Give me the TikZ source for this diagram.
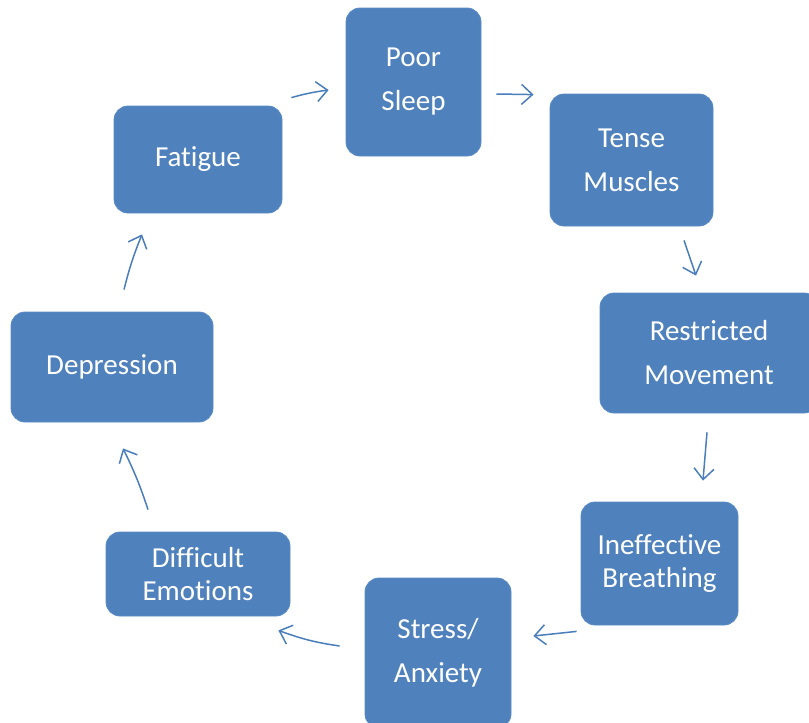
\documentclass[tikz,border=0pt]{standalone}
\usepackage{fontspec}
\setmainfont[Ligatures=NoCommon]{Carlito}
\usetikzlibrary{arrows.meta,bending}
\definecolor{boxblue}{HTML}{4F81BD}
\definecolor{boxedge}{HTML}{5A8BC6}
\definecolor{arrowblue}{HTML}{4A7EBB}
\tikzset{
  cyclebox/.style={draw=boxedge, line width=0.8pt, fill=boxblue, rounded corners=14pt,
    text=white, align=center, inner sep=0pt, font=\fontsize{29}{44}\selectfont},
  tightbox/.style={cyclebox, font=\fontsize{29}{33}\selectfont},
  cyclearrow/.style={draw=arrowblue, line width=1.5pt,
    -{Straight Barb[length=11pt,width=20pt,line width=1.5pt]}}
}
\begin{document}
\begin{tikzpicture}[x=1pt,y=1pt]
\useasboundingbox (0,0) rectangle (809,-723);
\begin{scope}
\clip (0,0) rectangle (809,-723);
\node[cyclebox, minimum width=135pt, minimum height=148pt] (sleep) at (413.5,-82) {Poor\\Sleep};
\node[cyclebox, minimum width=163pt, minimum height=132pt] (tense) at (631.5,-160) {Tense\\Muscles};
\node[cyclebox, minimum width=218pt, minimum height=120pt] (restr) at (709,-353) {Restricted\\Movement};
\node[tightbox, minimum width=157pt, minimum height=123pt] (breath) at (659.5,-563.5) {Ineffective\\Breathing};
\node[cyclebox, minimum width=146pt, minimum height=150pt] (stress) at (438,-653) {Stress/\\Anxiety};
\node[tightbox, minimum width=184pt, minimum height=84pt] (emot) at (198,-574) {Difficult\\Emotions};
\node[cyclebox, minimum width=202pt, minimum height=110pt] (depr) at (112,-367) {Depression};
\node[cyclebox, minimum width=168pt, minimum height=107pt] (fatig) at (198,-159.5) {Fatigue};
\end{scope}
\draw[cyclearrow] ([xshift=9pt,yshift=8pt]fatig.north east) to[bend left=4] ([xshift=-17pt,yshift=-8pt]sleep.west);
\draw[cyclearrow] ([xshift=15pt,yshift=-12pt]sleep.east) -- ([xshift=-16pt,yshift=-1pt]tense.north west);
\draw[cyclearrow] ([xshift=52.5pt,yshift=-14pt]tense.south) -- ([xshift=-13pt,yshift=17pt]restr.north);
\draw[cyclearrow] ([xshift=-2pt,yshift=-19pt]restr.south) -- ([xshift=43.5pt,yshift=21pt]breath.north);
\draw[cyclearrow] ([xshift=-4pt,yshift=-6pt]breath.south west) -- ([xshift=22pt,yshift=17pt]stress.east);
\draw[cyclearrow] ([xshift=-25pt,yshift=7pt]stress.west) to[bend left=6] ([xshift=-12pt,yshift=-14pt]emot.south east);
\draw[cyclearrow] ([xshift=-50pt,yshift=22pt]emot.north) to[bend right=4] ([xshift=11pt,yshift=-26pt]depr.south);
\draw[cyclearrow] ([xshift=12pt,yshift=22pt]depr.north) to[bend left=4] ([xshift=-56pt,yshift=-21pt]fatig.south);
\end{tikzpicture}
\end{document}
